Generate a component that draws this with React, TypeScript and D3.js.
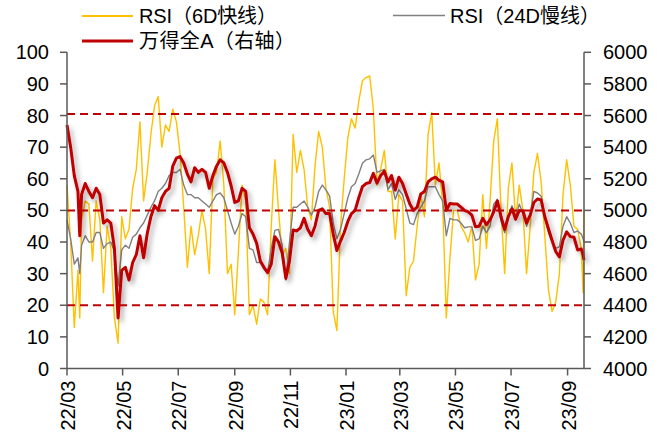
import React from "react";
import * as d3 from "d3";

const dates = [
  "2022-03-01","2022-03-05","2022-03-09","2022-03-13","2022-03-15","2022-03-17","2022-03-21","2022-03-25","2022-03-29",
  "2022-04-02","2022-04-06","2022-04-10","2022-04-14","2022-04-18","2022-04-22","2022-04-26","2022-04-30",
  "2022-05-04","2022-05-08","2022-05-12","2022-05-16","2022-05-20","2022-05-24","2022-05-28",
  "2022-06-01","2022-06-05","2022-06-09","2022-06-13","2022-06-17","2022-06-21","2022-06-25","2022-06-29",
  "2022-07-03","2022-07-07","2022-07-11","2022-07-15","2022-07-19","2022-07-23","2022-07-27","2022-07-31",
  "2022-08-04","2022-08-08","2022-08-12","2022-08-16","2022-08-20","2022-08-24","2022-08-28",
  "2022-09-01","2022-09-05","2022-09-09","2022-09-13","2022-09-17","2022-09-21","2022-09-25","2022-09-29",
  "2022-10-03","2022-10-07","2022-10-11","2022-10-15","2022-10-19","2022-10-23","2022-10-27","2022-10-31",
  "2022-11-04","2022-11-08","2022-11-12","2022-11-16","2022-11-20","2022-11-24","2022-11-28",
  "2022-12-02","2022-12-06","2022-12-10","2022-12-14","2022-12-18","2022-12-22","2022-12-26","2022-12-30",
  "2023-01-03","2023-01-07","2023-01-11","2023-01-15","2023-01-19","2023-01-23","2023-01-27","2023-01-31",
  "2023-02-04","2023-02-08","2023-02-12","2023-02-16","2023-02-20","2023-02-24","2023-02-28",
  "2023-03-04","2023-03-08","2023-03-12","2023-03-16","2023-03-20","2023-03-24","2023-03-28",
  "2023-04-01","2023-04-05","2023-04-09","2023-04-13","2023-04-17","2023-04-21","2023-04-25","2023-04-29",
  "2023-05-03","2023-05-07","2023-05-11","2023-05-15","2023-05-19","2023-05-23","2023-05-27","2023-05-31",
  "2023-06-04","2023-06-08","2023-06-12","2023-06-16","2023-06-20","2023-06-24","2023-06-28",
  "2023-07-02","2023-07-06","2023-07-10","2023-07-14","2023-07-18","2023-07-22","2023-07-26","2023-07-30",
  "2023-08-03","2023-08-07","2023-08-11","2023-08-15","2023-08-19","2023-08-23","2023-08-27","2023-08-31",
  "2023-09-04","2023-09-08","2023-09-12","2023-09-16","2023-09-18","2023-09-19",
];

const rsi6 = [
  58,40,13,31,16,47,53,52,34,
  53,47,24,45,38,16,8,48,
  41,44,57,63,78,53,62,
  74,83,86,70,77,75,82,78,
  68,51,32,45,36,42,50,44,
  30,60,62,72,58,30,33,
  17,37,58,53,17,20,14,22,
  21,17,45,66,50,36,38,30,
  74,62,69,63,51,47,64,
  75,70,57,51,18,12,45,60,
  73,79,76,84.5,91,92,92.5,82,
  58,63,69,56,56,41,55,
  53,23,32,34,45,55,48,
  74,81,58,65,52,16,35,50,
  50,45,43,40,45,28,33,55,
  38,53,72,79,50,30,57,
  65,47,58,50,30,45,62,68,
  59,42,25,18,21,30,55,66,
  58,45,44,38,24,50,
];

const rsi24 = [
  47,41,33,35,30,39,42,40,40,
  43,43,38,39.5,40,37,26,37.5,
  39,38,41.5,42.5,44.5,46,48.5,
  51,53,56,57,58.5,61,62,62,
  63,58,55,55,54,54,53,52,
  51,53,55,55.5,54,50,46,
  42.5,45,49,48,38,37.5,33.5,33.5,
  31.5,30.5,38,43.7,44,39,28,40,
  51,51,52,53,51,48.5,51,
  56,58,56.5,54.5,46,41,44,49,
  54,57.5,58.5,61.5,64.9,66,66.3,67.5,
  62,62.5,63,56.6,58.5,53.5,56.5,
  55,50.5,46,45.5,49,51,53,
  57.5,57.5,57.5,55,53,42,47.5,47,
  47,46,44.5,44.8,44.8,40.5,41,45,
  43,45,52,53.5,46.5,43,48,
  51.5,48,52,49,45,48.5,56,55.5,
  54.5,48,43,40,38,38.5,45,48,
  46,43,43.5,42.5,41,40,
];

const windA = [
  5540,5400,5220,5120,4840,5100,5170,5120,5080,
  5140,5100,4920,4940,4920,4760,4320,4620,
  4640,4560,4670,4720,4840,4700,4854,
  4960,5030,5000,5080,5120,5140,5280,5330,
  5340,5300,5230,5180,5270,5240,5260,5240,
  5140,5220,5280,5320,5300,5240,5156,
  5050,5060,5140,5120,4890,4850,4792,4680,
  4640,4606,4660,4834,4800,4730,4570,4680,
  4876,4870,4890,4950,4880,4840,4900,
  5000,5010,4980,4980,4850,4746,4806,4860,
  4930,4980,5000,5080,5150,5170,5176,5234,
  5172,5220,5248,5180,5220,5128,5210,
  5170,5104,5040,5000,5020,5104,5120,
  5180,5200,5210,5190,5180,5000,5044,5040,
  5040,5020,5000,4990,4970,4896,4900,4950,
  4910,4940,4990,5060,4960,4880,4960,
  5010,4944,5000,4996,4920,4970,5050,5072,
  5066,4960,4884,4810,4740,4706,4812,4864,
  4834,4830,4750,4756,4720,4686,
];

const leftTicks = [0, 10, 20, 30, 40, 50, 60, 70, 80, 90, 100];
const rightTicks = [4000, 4200, 4400, 4600, 4800, 5000, 5200, 5400, 5600, 5800, 6000];
const xTickDates = [
  "2022-03-01","2022-05-01","2022-07-01","2022-09-01","2022-11-01",
  "2023-01-01","2023-03-01","2023-05-01","2023-07-01","2023-09-01",
];
const refLevels = [80.5, 50, 20];
const legendLabels = ["RSI（6D快线）", "RSI（24D慢线）", "万得全A（右轴）"];

const W = 664;
const H = 438;
const L = 67;
const R = 584;
const T = 52.3;
const B = 368.5;

const FONT = "'Liberation Sans', Arial, 'Noto Sans CJK SC', sans-serif";
const AXIS = "#595959";

export default function App() {
  const parse = d3.timeParse("%Y-%m-%d");
  const fmt = d3.timeFormat("%y/%m");
  const ds = dates.map((s) => parse(s) as Date);

  const x = d3
    .scaleTime()
    .domain([parse("2022-03-01") as Date, parse("2023-09-19") as Date])
    .range([L, R]);
  const yL = d3.scaleLinear().domain([0, 100]).range([B, T]);
  const yR = d3.scaleLinear().domain([4000, 6000]).range([B, T]);

  const lineL = d3
    .line<number>()
    .x((_, i) => x(ds[i]))
    .y((v) => yL(v));
  const lineR = d3
    .line<number>()
    .x((_, i) => x(ds[i]))
    .y((v) => yR(v));

  return (
    <svg
      width={W}
      height={H}
      style={{ position: "absolute", left: 0, top: 0, background: "#fff" }}
      fontFamily={FONT}
    >
      <defs>
        <filter id="shadow" x="-5%" y="-10%" width="110%" height="130%">
          <feDropShadow dx="3" dy="3.5" stdDeviation="2.5" floodColor="#000" floodOpacity="0.33" />
        </filter>
      </defs>
      <rect x={0} y={0} width={W} height={H} fill="#fff" />

      {/* legend */}
      <line x1={82} x2={133} y1={16} y2={16} stroke="#FFC000" strokeWidth={2} />
      <text x={139} y={16} fontSize={20} dominantBaseline="central" fill="#000" textLength={138} lengthAdjust="spacing">
        {legendLabels[0]}
      </text>
      <line x1={393} x2={445} y1={15.5} y2={15.5} stroke="#808080" strokeWidth={1.5} />
      <text x={450} y={16} fontSize={20} dominantBaseline="central" fill="#000" textLength={150} lengthAdjust="spacing">
        {legendLabels[1]}
      </text>
      <line x1={82} x2={133} y1={41} y2={41} stroke="#C00000" strokeWidth={3} />
      <text x={139} y={41} fontSize={20} dominantBaseline="central" fill="#000" textLength={156} lengthAdjust="spacing">
        {legendLabels[2]}
      </text>

      {/* series */}
      <path d={lineL(rsi6) || ""} fill="none" stroke="#FFC000" strokeWidth={1.4} strokeLinejoin="round" />
      <path d={lineL(rsi24) || ""} fill="none" stroke="#808080" strokeWidth={1.4} strokeLinejoin="round" />
      <path
        d={lineR(windA) || ""}
        fill="none"
        stroke="#C00000"
        strokeWidth={3}
        strokeLinejoin="round"
        filter="url(#shadow)"
      />

      {/* reference lines */}
      {refLevels.map((v) => (
        <line
          key={v}
          x1={L}
          x2={R}
          y1={yL(v)}
          y2={yL(v)}
          stroke="#C00000"
          strokeWidth={2}
          strokeDasharray="8,5"
        />
      ))}

      {/* axes */}
      <line x1={L} x2={L} y1={T} y2={B} stroke={AXIS} strokeWidth={1.5} />
      <line x1={R} x2={R} y1={T} y2={B} stroke={AXIS} strokeWidth={1.5} />
      <line x1={L} x2={R} y1={B} y2={B} stroke={AXIS} strokeWidth={1.5} />

      {leftTicks.map((t) => (
        <g key={"l" + t}>
          <line x1={L - 7} x2={L} y1={yL(t)} y2={yL(t)} stroke={AXIS} strokeWidth={1.5} />
          <text x={49} y={yL(t)} fontSize={20} textAnchor="end" dominantBaseline="central" fill="#000">
            {t}
          </text>
        </g>
      ))}
      {rightTicks.map((t) => (
        <g key={"r" + t}>
          <line x1={R} x2={R + 7} y1={yR(t)} y2={yR(t)} stroke={AXIS} strokeWidth={1.5} />
          <text x={603} y={yR(t)} fontSize={20} textAnchor="start" dominantBaseline="central" fill="#000">
            {t}
          </text>
        </g>
      ))}
      {xTickDates.map((s) => {
        const d = parse(s) as Date;
        const px = x(d);
        return (
          <g key={s}>
            <line x1={px} x2={px} y1={B} y2={B + 7} stroke={AXIS} strokeWidth={1.5} />
            <text
              transform={`translate(${px + 1},${B + 12}) rotate(-90)`}
              fontSize={20}
              textAnchor="end"
              dominantBaseline="central"
              fill="#000"
            >
              {fmt(d)}
            </text>
          </g>
        );
      })}
    </svg>
  );
}
